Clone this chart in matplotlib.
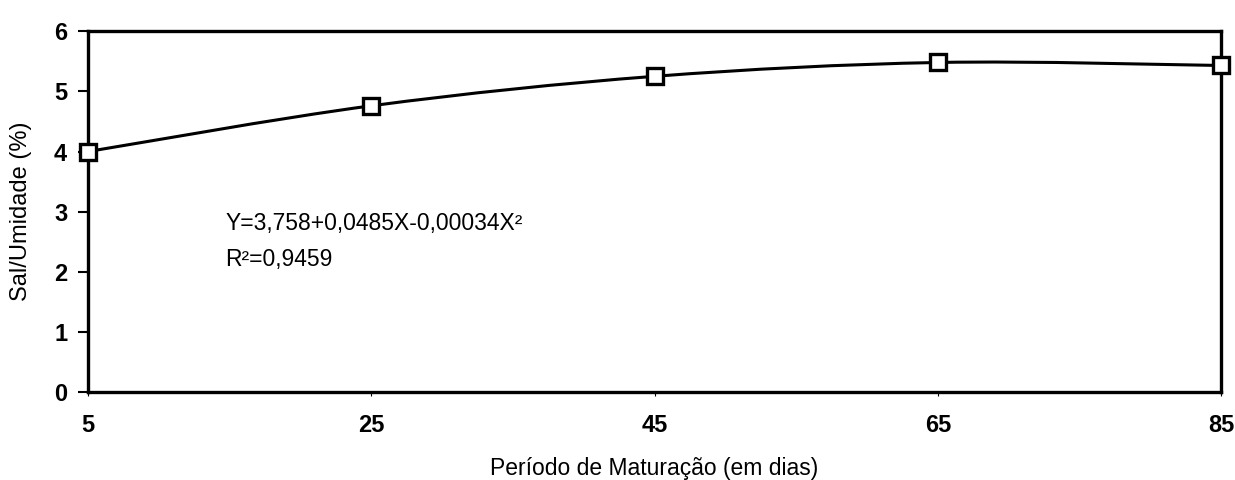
import numpy as np
import matplotlib.pyplot as plt
from matplotlib.path import Path
from matplotlib.patches import PathPatch

plt.rcParams['font.family'] = ['Liberation Sans', 'DejaVu Sans']

dias = [5, 25, 45, 65, 85]
sal_umidade = [4.0, 4.76, 5.25, 5.48, 5.43]
y_ticks = [0, 1, 2, 3, 4, 5, 6]

fig = plt.figure(figsize=(12.35, 4.8), dpi=100)
ax = fig.add_axes([0.0713, 0.183, 0.9174, 0.752])

# linha suavizada (tipo Excel) a partir dos pontos
pts = np.column_stack([dias, sal_umidade]).astype(float)
ext = np.vstack([pts[0], pts, pts[-1]])
verts = [tuple(pts[0])]
codes = [Path.MOVETO]
for i in range(len(pts) - 1):
    p0, p1, p2, p3 = ext[i], ext[i + 1], ext[i + 2], ext[i + 3]
    c1 = p1 + (p2 - p0) / 6
    c2 = p2 - (p3 - p1) / 6
    verts += [tuple(c1), tuple(c2), tuple(p2)]
    codes += [Path.CURVE4] * 3
curva = PathPatch(Path(verts, codes), fill=False, edgecolor="black",
                  linewidth=2.2, zorder=2)
ax.add_patch(curva)

ax.plot(dias, sal_umidade, linestyle="none", marker="s", markersize=12,
        markerfacecolor="white", markeredgecolor="black",
        markeredgewidth=2.4, zorder=3, clip_on=False)

ax.set_xlim(5, 85)
ax.set_ylim(0, 6)
ax.set_xticks(dias)
ax.set_yticks(y_ticks)

for s in ax.spines.values():
    s.set_linewidth(2.4)

ax.tick_params(axis="y", direction="out", length=7, width=1.5,
               labelsize=17, pad=8)
ax.tick_params(axis="x", direction="out", length=3, width=0.8,
               labelsize=17, pad=13)
for lbl in ax.get_xticklabels() + ax.get_yticklabels():
    lbl.set_fontweight("bold")

ax.set_ylabel("Sal/Umidade (%)", fontsize=17, labelpad=16)
ax.set_xlabel("Período de Maturação (em dias)", fontsize=16.5, labelpad=14)

ax.text(14.7, 2.8, "Y=3,758+0,0485X-0,00034X²", fontsize=16.5,
        va="center", ha="left")
ax.text(14.7, 2.2, "R²=0,9459", fontsize=16.5, va="center", ha="left")

plt.savefig("out.png", dpi=100)
